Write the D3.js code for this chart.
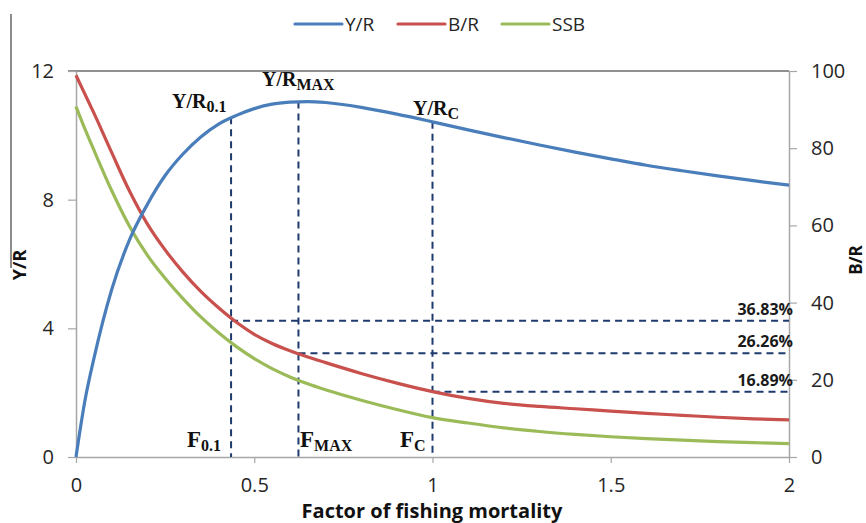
<!DOCTYPE html>
<html>
<head>
<meta charset="utf-8">
<script src="https://cdn.jsdelivr.net/npm/d3@7/dist/d3.min.js"></script>
<style>
  html, body { margin: 0; padding: 0; background: #fff; }
  svg { display: block; }
</style>
</head>
<body>
<svg id="chart" width="866" height="523"></svg>
<script>
// ---- data ----
const fishingFactor = [0, 0.025, 0.05, 0.1, 0.15, 0.2, 0.25, 0.3, 0.35, 0.4, 0.45, 0.5, 0.55, 0.6, 0.65, 0.7, 0.8, 0.9, 1.0, 1.1, 1.2, 1.3, 1.4, 1.5, 1.6, 1.7, 1.8, 1.9, 2.0];
const yieldPerRecruit = [0, 1.75, 3.05, 5.2, 6.75, 7.85, 8.75, 9.42, 9.95, 10.35, 10.62, 10.83, 10.97, 11.03, 11.05, 11.02, 10.87, 10.66, 10.42, 10.17, 9.93, 9.7, 9.48, 9.27, 9.07, 8.9, 8.74, 8.59, 8.45];
const biomassPerRecruit = [98.9, 94.0, 89.15, 78.9, 68.9, 60.4, 53.65, 47.9, 42.9, 38.65, 34.9, 31.8, 29.4, 27.5, 25.9, 24.45, 21.65, 19.15, 16.95, 15.2, 13.9, 13.1, 12.5, 11.9, 11.3, 10.8, 10.3, 9.9, 9.6];
const spawningBiomass = [90.8, 85.0, 79.55, 69.05, 59.8, 52.3, 46.3, 41.05, 36.3, 32.2, 28.6, 25.5, 22.9, 20.75, 18.95, 17.4, 14.7, 12.3, 10.2, 8.8, 7.55, 6.6, 5.85, 5.25, 4.75, 4.35, 4.0, 3.7, 3.45];

const refF = [0.435, 0.624, 1.0];
const refYR = [10.56, 11.05, 10.42];
const refBR = [35.3, 26.9, 16.9];
const refPct = ["36.83%", "26.26%", "16.89%"];

const seriesNames = ["Y/R", "B/R", "SSB"];
const xTicks = [0, 0.5, 1, 1.5, 2];
const yLeftTicks = [0, 4, 8, 12];
const yRightTicks = [0, 20, 40, 60, 80, 100];

// ---- layout ----
const svg = d3.select("#chart");
const colors = { "Y/R": "#4a7ebb", "B/R": "#c8504d", "SSB": "#9bbb59" };
const refColor = "#1f3a6e";
const axisColor = "#a6a6a6";
const sans = "'Open Sans', sans-serif";
const serif = "'Liberation Serif', 'Times New Roman', serif";

const x = d3.scaleLinear().domain([0, 2]).range([76, 789]);
const yL = d3.scaleLinear().domain([0, 12]).range([457, 71]);
const yR = d3.scaleLinear().domain([0, 100]).range([457, 71]);

// stray frame line at left
svg.append("line").attr("x1", 11).attr("x2", 11).attr("y1", 14).attr("y2", 268)
  .attr("stroke", "#666").attr("stroke-width", 1.5);

// top border
svg.append("line").attr("x1", 68).attr("x2", 789).attr("y1", 71).attr("y2", 71)
  .attr("stroke", "#6b6b6b").attr("stroke-width", 1.5);

function styleAxis(g) {
  g.selectAll(".domain").attr("stroke", axisColor).attr("stroke-width", 1.5);
  g.selectAll(".tick line").attr("stroke", axisColor).attr("stroke-width", 1.2);
  g.selectAll("text").attr("fill", "#262626").style("font-family", sans).style("font-size", "20px");
}

svg.append("g").attr("transform", "translate(0,457)")
  .call(d3.axisBottom(x).tickValues(xTicks).tickFormat(d3.format("~g")).tickSize(6).tickSizeOuter(0).tickPadding(15))
  .call(styleAxis);

svg.append("g").attr("transform", "translate(76,0)")
  .call(d3.axisLeft(yL).tickValues(yLeftTicks).tickSize(8).tickSizeOuter(0).tickPadding(14))
  .call(styleAxis);

svg.append("g").attr("transform", "translate(789,0)")
  .call(d3.axisRight(yR).tickValues(yRightTicks).tickSize(8).tickSizeOuter(0).tickPadding(14))
  .call(styleAxis);

// reference dashed lines
const dash = "7,5";
refF.forEach((f, i) => {
  svg.append("line")
    .attr("x1", x(f)).attr("x2", x(f))
    .attr("y1", yL(refYR[i])).attr("y2", 457)
    .attr("stroke", refColor).attr("stroke-width", 2).attr("stroke-dasharray", dash);
  svg.append("line")
    .attr("x1", x(f)).attr("x2", 789)
    .attr("y1", yR(refBR[i])).attr("y2", yR(refBR[i]))
    .attr("stroke", refColor).attr("stroke-width", 2).attr("stroke-dasharray", dash);
  svg.append("text")
    .attr("x", 793).attr("y", yR(refBR[i]) - 6)
    .attr("text-anchor", "end")
    .style("font-family", sans).style("font-size", "16px").style("font-weight", "bold")
    .attr("fill", "#1a1a1a")
    .text(refPct[i]);
});

// series lines
const seriesData = [
  { name: "Y/R", values: yieldPerRecruit, y: yL },
  { name: "B/R", values: biomassPerRecruit, y: yR },
  { name: "SSB", values: spawningBiomass, y: yR }
];
seriesData.slice().reverse().forEach(s => {
  const line = d3.line()
    .x((d, i) => x(fishingFactor[i]))
    .y(d => s.y(d))
    .curve(d3.curveMonotoneX);
  svg.append("path")
    .datum(s.values)
    .attr("d", line)
    .attr("fill", "none")
    .attr("stroke", colors[s.name])
    .attr("stroke-width", 3.2)
    .attr("stroke-linejoin", "round");
});

// annotation labels (serif, bold, with subscripts)
function subLabel(xp, yp, main, sub, mainSize, subSize) {
  const t = svg.append("text")
    .attr("x", xp).attr("y", yp)
    .style("font-family", serif).style("font-weight", "bold")
    .attr("fill", "#111");
  t.append("tspan").style("font-size", mainSize + "px").text(main);
  t.append("tspan").style("font-size", subSize + "px").attr("dy", 4).text(sub);
}
subLabel(172, 108, "Y/R", "0.1", 20, 16);
subLabel(262, 86, "Y/R", "MAX", 20, 16);
subLabel(413, 115, "Y/R", "C", 20, 16);
subLabel(187, 447, "F", "0.1", 23, 16);
subLabel(300, 447, "F", "MAX", 23, 16);
subLabel(400, 447, "F", "C", 23, 16);

// axis titles
svg.append("text")
  .attr("transform", "translate(26,265) rotate(-90)")
  .attr("text-anchor", "middle")
  .style("font-family", sans).style("font-size", "18px").style("font-weight", "bold")
  .attr("fill", "#111").text("Y/R");
svg.append("text")
  .attr("transform", "translate(862,260) rotate(-90)")
  .attr("text-anchor", "middle")
  .style("font-family", sans).style("font-size", "17px").style("font-weight", "bold")
  .attr("fill", "#111").text("B/R");
svg.append("text")
  .attr("x", 432).attr("y", 518)
  .attr("text-anchor", "middle")
  .style("font-family", sans).style("font-size", "20px").style("font-weight", "bold")
  .attr("fill", "#111").text("Factor of fishing mortality");

// legend
const legendX = [295, 398, 502];
seriesNames.forEach((n, i) => {
  svg.append("line")
    .attr("x1", legendX[i]).attr("x2", legendX[i] + 47)
    .attr("y1", 24).attr("y2", 24)
    .attr("stroke", colors[n]).attr("stroke-width", 3.2).attr("stroke-linecap", "round");
  svg.append("text")
    .attr("x", legendX[i] + 50).attr("y", 31)
    .style("font-family", sans).style("font-size", "19px")
    .attr("fill", "#262626").text(n);
});
</script>
</body>
</html>
